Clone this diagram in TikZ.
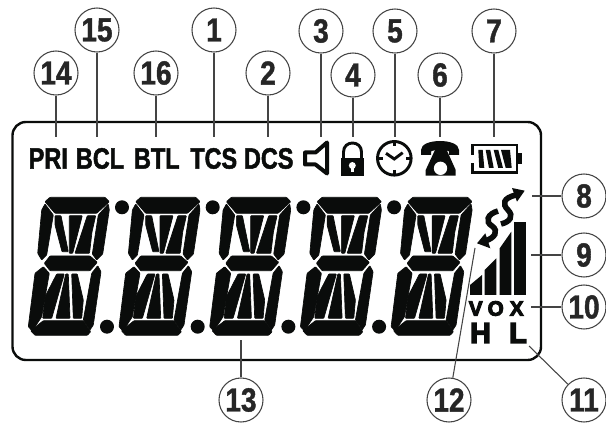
\documentclass[tikz,border=0pt]{standalone}
\usepackage{fontspec}
\newfontfamily\lcdfont[UprightFont={* Bold},FakeStretch=0.8,FakeBold=1.6]{Liberation Sans}
\newfontfamily\numfont[UprightFont={* Bold},FakeStretch=0.84,FakeBold=1.2]{Liberation Sans}
\newfontfamily\heavyfont[UprightFont={* Bold},FakeBold=5]{Liberation Sans}
\definecolor{lcdblack}{HTML}{0A0C0B}
\definecolor{leadgray}{HTML}{444444}
\tikzset{
  callout/.style={circle,draw=leadgray,line width=0.8pt,fill=white,minimum size=33pt,inner sep=0pt,font=\numfont\fontsize{25}{25}\selectfont,text=black!85},
  lead/.style={draw=leadgray,line width=0.8pt},
  tag/.style={inner sep=0pt,text=lcdblack,font=\lcdfont\fontsize{22}{22}\selectfont},
  small/.style={inner sep=0pt,text=lcdblack,font=\heavyfont\fontsize{15.5}{15.5}\selectfont},
  large/.style={inner sep=0pt,text=lcdblack,font=\heavyfont\fontsize{21.5}{21.5}\selectfont},
  seg/.style={fill=lcdblack,draw=lcdblack,line width=0.5pt,rounded corners=0.5pt},
  icon/.style={draw=lcdblack,line width=2.2pt},
}
\begin{document}
\begin{tikzpicture}[x=0.75pt,y=-0.75pt]
    \useasboundingbox (0,0) rectangle (606,423);
    \draw[draw=lcdblack,line width=1.8pt,rounded corners=10pt] (12.5,122) rectangle (541,360);

    \node[tag] (pri) at (48.3,158.5) {PRI};
    \node[tag] (bcl) at (100,158.5) {BCL};
    \node[tag] (btl) at (156.8,158.5) {BTL};
    \node[tag] (tcs) at (213.7,158.5) {TCS};
    \node[tag] (dcs) at (268.7,158.5) {DCS};

    \foreach \n in {0,...,4} {
      \begin{scope}[shift={(\n*90.7,0)}]
        \filldraw[seg] (50,197.3) -- (105,197.3) -- (109.3,201.7) -- (96.7,213.3) -- (55,213.3) -- (45,201.7) -- cycle;
        \filldraw[seg] (45,204) -- (53.3,215) -- (46.7,255) -- (41.7,260) -- (37.7,253.3) -- (41.7,210) -- cycle;
        \filldraw[seg] (108.3,204) -- (109.3,210) -- (102.7,254) -- (96.7,260) -- (92.3,254) -- (98.3,215) -- cycle;
        \filldraw[seg] (50,256) -- (90,256) -- (97.3,262.3) -- (90,270.7) -- (50,270.7) -- (44.3,263.3) -- cycle;
        \filldraw[seg] (43.3,266.7) -- (49.3,273.3) -- (41.7,316.7) -- (32.3,331) -- (28.3,326.7) -- (35,273.3) -- cycle;
        \filldraw[seg] (97.7,265.7) -- (101,271.7) -- (93.3,325) -- (90,330) -- (83.3,320) -- (91.7,273.3) -- cycle;
        \filldraw[seg] (43.3,320.7) -- (83.3,320.7) -- (90.7,331.7) -- (87.3,335.3) -- (35,335.3) -- (30.7,330.7) -- cycle;
        \filldraw[seg] (55,215.7) -- (61,215.7) -- (68.3,251.7) -- (62,251.7) -- (55,225) -- cycle;
        \filldraw[seg] (69.3,215.7) -- (82.3,215.7) -- (72.7,253.3) -- (69.3,253.3) -- cycle;
        \filldraw[seg] (87.3,215.7) -- (95.7,215.7) -- (92,232) -- (89.5,253.3) -- (75,253.3) -- cycle;
        \filldraw[seg] (56.7,274) -- (64.3,274) -- (51.7,318.3) -- (42.7,318.3) -- (45,296.7) -- cycle;
        \filldraw[seg] (65.7,274) -- (68.3,274) -- (70,318.3) -- (56,318.3) -- cycle;
        \filldraw[seg] (71.7,274) -- (77.3,274) -- (83.3,300) -- (81.7,318.3) -- (73.3,318.3) -- cycle;
      \end{scope}
    }
    \foreach \n in {0,...,3} {
      \fill[lcdblack] (122+\n*90.7,207.3) circle (5.25pt);
      \fill[lcdblack] (107+\n*90.7,326.7) circle (5.25pt);
    }

    % speaker
    \draw[icon,line width=3pt,line join=round] (305,152.5) -- (315.5,152.5) -- (327,142.5) -- (327,173.5) -- (315.5,164.5) -- (305,164.5) -- cycle;
    % lock
    \fill[lcdblack] (340.7,157.7) rectangle (364.3,175.7);
    \draw[icon] (343.5,158) -- (343.5,152) .. controls (343.5,140) and (361.5,140) .. (361.5,152) -- (361.5,158);
    \fill[white] (352.3,165.5) circle (2.6pt);
    \fill[white] (350.8,166) rectangle (353.8,172);
    % clock
    \draw[icon] (394.3,158.3) circle (12.6pt);
    \draw[icon] (394.3,141.5) -- (394.3,146.5);
    \draw[icon] (394.3,170) -- (394.3,175);
    \draw[icon] (377.5,158.3) -- (382.5,158.3);
    \draw[icon] (406,158.3) -- (411,158.3);
    \draw[icon] (386,153.3) -- (394.3,159) -- (402.7,152.7);
    % phone
    \fill[lcdblack] (421,150) .. controls (421,138) and (459,138) .. (459,150) -- (459,155) -- (449,155) -- (449,151.5) .. controls (447,149.5) and (433,149.5) .. (431,151.5) -- (431,155) -- (421,155) -- cycle;
    \fill[lcdblack] (435,150) -- (446.7,150) -- (455.7,170) -- (455.7,175.7) -- (425.7,175.7) -- (425.7,170) -- cycle;
    \fill[white] (440.5,168.3) circle (5pt);
    % battery
    \draw[icon] (472.7,155) -- (472.7,145) -- (517,145) -- (517,172.3) -- (472.7,172.3) -- (472.7,163);
    \fill[lcdblack] (517,153) rectangle (521.7,164);
    \fill[lcdblack] (478.3,150) -- (482.7,150) -- (484.3,168) -- (479.3,168) -- cycle;
    \fill[lcdblack] (485.7,150) -- (490.3,150) -- (493.7,168) -- (489,168) -- cycle;
    \fill[lcdblack] (493.7,150) -- (498.3,150) -- (503,168) -- (498.3,168) -- cycle;
    \fill[lcdblack] (501,150) -- (510,150) -- (511.7,168) -- (505.7,168) -- cycle;

    % wave arrows
    \draw[lcdblack,line width=4.2pt] (516,195) .. controls (503,198) and (502,204) .. (508,210) .. controls (514,216) and (510,222) .. (501,224);
    \fill[lcdblack] (524.7,190.7) -- (512,188) -- (517,201.7) -- cycle;
    \draw[lcdblack,line width=4.2pt] (498,211) .. controls (487,214) and (485,222) .. (492,226) .. controls (499,231) and (495,238) .. (485,241);
    \fill[lcdblack] (477,243.3) -- (485.3,233.3) -- (490.3,248.3) -- cycle;

    % bars
    \fill[lcdblack] (470,285) -- (482,275) -- (482,295) -- (470,295) -- cycle;
    \fill[lcdblack] (484.7,270) -- (496.3,258.3) -- (496.3,295) -- (484.7,295) -- cycle;
    \fill[lcdblack] (499.7,248.3) -- (511.3,231.7) -- (511.3,295) -- (499.7,295) -- cycle;
    \fill[lcdblack] (513.7,221.7) rectangle (526,295);

    \node[small] (v) at (475.7,308.5) {V};
    \node[small] (o) at (495.7,308.5) {O};
    \node[small] (x) at (516.7,308.5) {X};
    \node[large] (h) at (480.5,333) {H};
    \node[large] (l) at (518,333) {L};

    \node[callout] (n14) at (56,73) {14};
    \node[callout] (n15) at (97,30) {15};
    \node[callout] (n16) at (156,73) {16};
    \node[callout] (n1) at (214,30) {1};
    \node[callout] (n2) at (268,73) {2};
    \node[callout] (n3) at (321,31) {3};
    \node[callout] (n4) at (353,75) {4};
    \node[callout] (n5) at (395,31) {5};
    \node[callout] (n6) at (440,75) {6};
    \node[callout] (n7) at (494,31) {7};
    \node[callout] (n8) at (584,196) {8};
    \node[callout] (n9) at (584,255) {9};
    \node[callout] (n10) at (584,307) {10};
    \node[callout] (n11) at (584,400) {11};
    \node[callout] (n12) at (449,400) {12};
    \node[callout] (n13) at (241,400) {13};

    \coordinate (e14) at (56,137);
    \coordinate (e15) at (97,137);
    \coordinate (e16) at (156,137);
    \coordinate (e1) at (214,137);
    \coordinate (e2) at (268,137);
    \coordinate (e3) at (321,137);
    \coordinate (e4) at (353,137);
    \coordinate (e5) at (395,137);
    \coordinate (e6) at (440,137);
    \coordinate (e7) at (494,137);
    \coordinate (e8) at (532,196);
    \coordinate (e9) at (531,255);
    \coordinate (e10) at (531,307);
    \coordinate (e11) at (529,346);
    \coordinate (e12) at (475,248);
    \coordinate (e13) at (241,340);

    \foreach \n in {1,...,16} {
      \draw[lead] (n\n) -- (e\n);
    }
\end{tikzpicture}
\end{document}
